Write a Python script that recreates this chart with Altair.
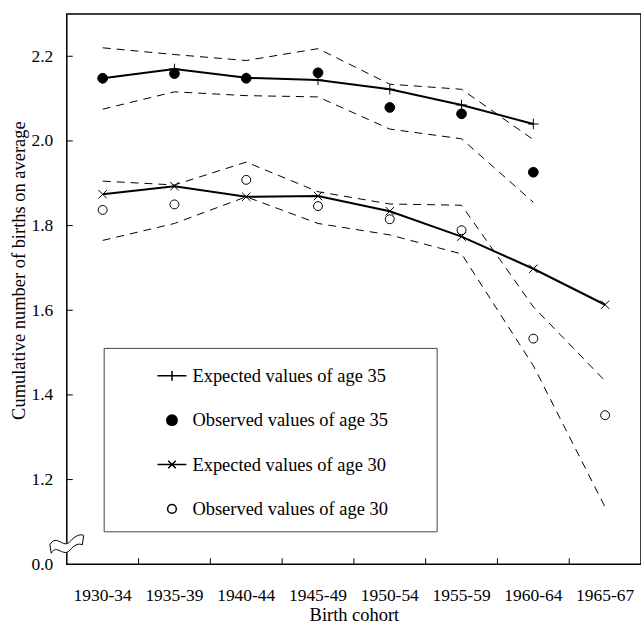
import altair as alt
import pandas as pd

# ---------------- data ----------------
cohorts = ["1930-34", "1935-39", "1940-44", "1945-49", "1950-54", "1955-59", "1960-64", "1965-67"]

exp35 = [2.148, 2.170, 2.149, 2.144, 2.122, 2.085, 2.040, None]
obs35 = [2.148, 2.159, 2.148, 2.161, 2.079, 2.064, 1.926, None]
up35 = [2.220, 2.204, 2.190, 2.218, 2.134, 2.122, 2.003, None]
lo35 = [2.075, 2.116, 2.107, 2.104, 2.028, 2.005, 1.855, None]

exp30 = [1.874, 1.893, 1.868, 1.870, 1.834, 1.774, 1.698, 1.613]
obs30 = [1.837, 1.850, 1.908, 1.846, 1.815, 1.789, 1.533, 1.352]
up30 = [1.905, 1.896, 1.950, 1.880, 1.851, 1.848, 1.608, 1.433]
lo30 = [1.765, 1.805, 1.868, 1.805, 1.778, 1.733, 1.469, 1.135]

series_names = [
    "Expected values of age 35",
    "Observed values of age 35",
    "Expected values of age 30",
    "Observed values of age 30",
]

y_tick_values = [1.0, 1.2, 1.4, 1.6, 1.8, 2.0, 2.2]   # 1.0 stands for the broken-axis "0.0"
y_inner_ticks = [1.2, 1.4, 1.6, 1.8, 2.0, 2.2]
break_value = [1.05]

# ---------------- styling ----------------
FONT = "Liberation Serif"
PLUS = "M-1,0L1,0M0,-1L0,1"
CROSS = "M-1,-1L1,1M-1,1L1,-1"
LEG_PLUS = "M-1,0L1,0M0,-0.34L0,0.34"
LEG_DOT = "M-0.36,0A0.36,0.36,0,1,0,0.36,0A0.36,0.36,0,1,0,-0.36,0Z"
LEG_CROSS = "M-1,0L1,0M-0.26,-0.26L0.26,0.26M-0.26,0.26L0.26,-0.26"
LEG_CIRC = "M-0.3,0A0.3,0.3,0,1,0,0.3,0A0.3,0.3,0,1,0,-0.3,0Z"
BREAK = ("M-1,0.1C-0.6,-0.6,-0.2,0.4,0.2,-0.1C0.5,-0.45,0.8,-0.55,1,-0.45"
         "L0.92,0.1C0.7,0,0.45,0.1,0.2,0.4C-0.2,0.9,-0.6,0,-0.92,0.6Z")

# ---------------- tables ----------------
line_rows = []
for key, vals, kind in [("exp35", exp35, "solid"), ("up35", up35, "dashed"), ("lo35", lo35, "dashed"),
                        ("exp30", exp30, "solid"), ("up30", up30, "dashed"), ("lo30", lo30, "dashed")]:
    for c, v in zip(cohorts, vals):
        if v is not None:
            line_rows.append({"cohort": c, "value": v, "series": key, "kind": kind})
df_lines = pd.DataFrame(line_rows)

point_rows = []
for vals, shape, fill, size in [(exp35, PLUS, "transparent", 110), (obs35, "circle", "black", 95),
                                (exp30, CROSS, "transparent", 70), (obs30, "circle", "transparent", 80)]:
    for c, v in zip(cohorts, vals):
        if v is not None:
            point_rows.append({"cohort": c, "value": v, "shape": shape, "fill": fill, "size": size})
df_points = pd.DataFrame(point_rows)

df_legend = pd.DataFrame({"series": series_names, "cohort": cohorts[0], "value": [None] * 4})
df_xticks = pd.DataFrame({"cohort": cohorts[1:]})
df_yticks = pd.DataFrame({"value": y_inner_ticks})
df_break = pd.DataFrame({"cohort": [cohorts[0]], "value": break_value})

# ---------------- encodings ----------------
x_scale = alt.Scale(type="band", domain=cohorts, paddingInner=0, paddingOuter=0)
y_scale = alt.Scale(domain=[1.0, 2.3], nice=False, zero=False)

x_axis = alt.Axis(title="Birth cohort", labelAngle=0, ticks=False, tickSize=0, domain=False, grid=False,
                  labelPadding=22, titlePadding=2, labelFontSize=17.5, titleFontSize=18.5)
y_axis = alt.Axis(title="Cumulative number of births on average", values=y_tick_values,
                  labelExpr="datum.value < 1.1 ? '0.0' : format(datum.value, '.1f')",
                  ticks=False, tickSize=0, domain=False, grid=False,
                  labelPadding=14, titlePadding=3, titleY=257, labelFontSize=17.5, titleFontSize=18.5)

X = alt.X("cohort:N", scale=x_scale, axis=x_axis, title="Birth cohort")
Y = alt.Y("value:Q", scale=y_scale, axis=y_axis, title="Cumulative number of births on average")

dashed = alt.Chart(df_lines).transform_filter("datum.kind == 'dashed'").mark_line(
    color="black", strokeWidth=1, strokeDash=[8, 6]
).encode(x=X, y=Y, detail="series:N")

solid = alt.Chart(df_lines).transform_filter("datum.kind == 'solid'").mark_line(
    color="black", strokeWidth=2
).encode(x=X, y=Y, detail="series:N")

points = alt.Chart(df_points).mark_point(filled=True, stroke="black", strokeWidth=1, opacity=1).encode(
    x=X, y=Y,
    shape=alt.Shape("shape:N", scale=None),
    fill=alt.Fill("fill:N", scale=None),
    size=alt.Size("size:Q", scale=None),
)

leg = alt.Legend(
    title="\u00a0", titleOrient="right", titlePadding=36, titleFontSize=1,
    orient="none", legendX=37, legendY=335, padding=12.5, symbolOffset=40.5, labelOffset=5,
    rowPadding=19.5, strokeColor="#444444", labelFontSize=18.5, labelFont=FONT, labelColor="black",
    labelLimit=400, symbolSize=841, symbolStrokeColor="black", symbolStrokeWidth=1.5,
)
legend_layer = alt.Chart(df_legend).mark_point(filled=True, stroke="black", strokeWidth=1.5, opacity=1).encode(
    x=X, y=Y,
    shape=alt.Shape("series:N", scale=alt.Scale(domain=series_names,
                                                range=[LEG_PLUS, LEG_DOT, LEG_CROSS, LEG_CIRC]), legend=leg),
    fill=alt.Fill("series:N", scale=alt.Scale(domain=series_names,
                                              range=["black", "black", "black", "white"]), legend=leg),
)

xticks = alt.Chart(df_xticks).mark_rule(color="black", strokeWidth=1).encode(
    x=alt.X("cohort:N", scale=x_scale, axis=x_axis, title="Birth cohort", bandPosition=0),
    y=alt.value(546), y2=alt.value(552),
)
yticks = alt.Chart(df_yticks).mark_rule(color="black", strokeWidth=1).encode(
    y=Y, x=alt.value(0), x2=alt.value(6),
)
brk = alt.Chart(df_break).mark_point(shape=BREAK, size=1150, filled=True, fill="white",
                                     stroke="black", strokeWidth=1, opacity=1).encode(
    x=alt.X("cohort:N", scale=x_scale, axis=x_axis, title="Birth cohort", bandPosition=0),
    y=Y,
)

chart = alt.layer(dashed, solid, points, legend_layer, xticks, yticks, brk).properties(
    width=576, height=552,
    padding={"left": 67, "top": 13, "right": 0, "bottom": 62},
    autosize=alt.AutoSizeParams(type="none"),
    background="white",
).configure_view(
    stroke="black", strokeWidth=1.5
).configure_axis(
    labelFont=FONT, titleFont=FONT, labelColor="black", titleColor="black", titleFontWeight="normal"
).configure_legend(
    labelFont=FONT
)

chart.save("out.html", embed_options={"renderer": "svg", "actions": False})
